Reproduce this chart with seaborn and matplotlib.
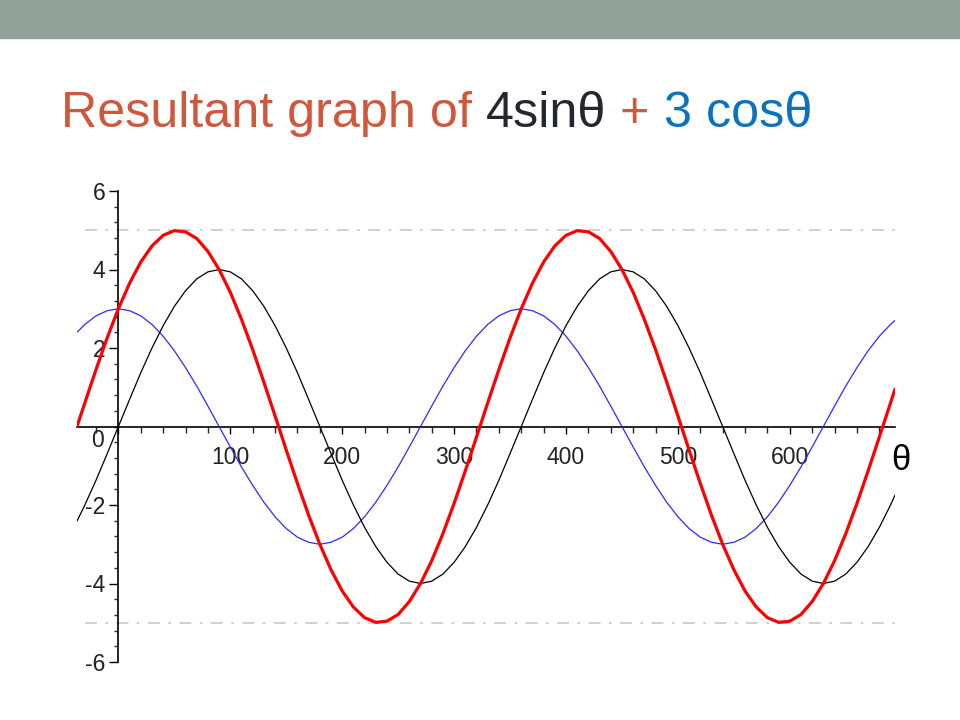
import matplotlib
matplotlib.use("Agg")
import matplotlib.pyplot as plt
from matplotlib.ticker import MultipleLocator, FixedLocator
from matplotlib.patches import Rectangle
import pandas as pd
import seaborn as sns

# angles in degrees (plot runs from about -37 to 694)
theta = [-37] + list(range(-30, 700, 10)) + [694]

# 4 sin(theta)  -- black
sin4 = [-2.41, -2.0, -1.37, -0.69,
        0, 0.69, 1.37, 2.0, 2.57, 3.06, 3.46, 3.76, 3.94, 4.0, 3.94, 3.76, 3.46, 3.06, 2.57, 2.0, 1.37, 0.69,
        0, -0.69, -1.37, -2.0, -2.57, -3.06, -3.46, -3.76, -3.94, -4.0, -3.94, -3.76, -3.46, -3.06, -2.57, -2.0, -1.37, -0.69,
        0, 0.69, 1.37, 2.0, 2.57, 3.06, 3.46, 3.76, 3.94, 4.0, 3.94, 3.76, 3.46, 3.06, 2.57, 2.0, 1.37, 0.69,
        0, -0.69, -1.37, -2.0, -2.57, -3.06, -3.46, -3.76, -3.94, -4.0, -3.94, -3.76, -3.46, -3.06, -2.57, -2.0,
        -1.75]

# 3 cos(theta)  -- blue
cos3 = [2.40, 2.6, 2.82, 2.95,
        3.0, 2.95, 2.82, 2.6, 2.3, 1.93, 1.5, 1.03, 0.52, 0, -0.52, -1.03, -1.5, -1.93, -2.3, -2.6, -2.82, -2.95,
        -3.0, -2.95, -2.82, -2.6, -2.3, -1.93, -1.5, -1.03, -0.52, 0, 0.52, 1.03, 1.5, 1.93, 2.3, 2.6, 2.82, 2.95,
        3.0, 2.95, 2.82, 2.6, 2.3, 1.93, 1.5, 1.03, 0.52, 0, -0.52, -1.03, -1.5, -1.93, -2.3, -2.6, -2.82, -2.95,
        -3.0, -2.95, -2.82, -2.6, -2.3, -1.93, -1.5, -1.03, -0.52, 0, 0.52, 1.03, 1.5, 1.93, 2.3, 2.6,
        2.70]

# resultant  -- red
resultant = [0.0, 0.6, 1.45, 2.26,
             3.0, 3.65, 4.19, 4.6, 4.87, 4.99, 4.96, 4.79, 4.46, 4.0, 3.42, 2.73, 1.96, 1.13, 0.27, -0.6, -1.45, -2.26,
             -3.0, -3.65, -4.19, -4.6, -4.87, -4.99, -4.96, -4.79, -4.46, -4.0, -3.42, -2.73, -1.96, -1.13, -0.27, 0.6, 1.45, 2.26,
             3.0, 3.65, 4.19, 4.6, 4.87, 4.99, 4.96, 4.79, 4.46, 4.0, 3.42, 2.73, 1.96, 1.13, 0.27, -0.6, -1.45, -2.26,
             -3.0, -3.65, -4.19, -4.6, -4.87, -4.99, -4.96, -4.79, -4.46, -4.0, -3.42, -2.73, -1.96, -1.13, -0.27, 0.6,
             0.95]

bounds = [5, -5]
x_ticks = [0, 100, 200, 300, 400, 500, 600]
x_labels = ["", "100", "200", "300", "400", "500", "600"]
y_ticks = [-6, -4, -2, 2, 4, 6]
title_parts = ["Resultant graph of ", "4sin\u03b8", " + ", "3 cos\u03b8"]
title_colors = ["#d0573c", "#262630", "#d0573c", "#0a72c0"]

df = pd.DataFrame({"theta": theta, "sin4": sin4, "cos3": cos3, "res": resultant})

sns.set_style("white")
plt.rcParams["font.family"] = ["Liberation Sans", "DejaVu Sans"]
plt.rcParams["axes.unicode_minus"] = False

fig = plt.figure(figsize=(9.6, 7.2), dpi=100)
fig.patches.append(Rectangle((0, 1 - 38 / 720), 1, 38 / 720, transform=fig.transFigure,
                             color="#93a299", zorder=0))

ax = fig.add_axes([77 / 960, 58 / 720, 818 / 960, 471 / 720])
ax.set_facecolor("none")

for b in bounds:
    ax.axhline(b, xmin=0.01, color="#c4c4c4", lw=1.1, linestyle=(0, (7.8, 5.5, 1.8, 5.5)), zorder=1)

sns.lineplot(data=df, x="theta", y="cos3", color="#2b2bff", lw=0.9, sort=False, estimator=None, ax=ax, zorder=3)
sns.lineplot(data=df, x="theta", y="sin4", color="black", lw=0.9, sort=False, estimator=None, ax=ax, zorder=3)
sns.lineplot(data=df, x="theta", y="res", color="#ff0000", lw=2.3, sort=False, estimator=None, ax=ax, zorder=4)

ax.set_xlim(min(theta), max(theta))
ax.set_ylim(-6, 6)
ax.set_xlabel("")
ax.set_ylabel("")

# maple-style axes through the origin
for s in ["top", "right"]:
    ax.spines[s].set_visible(False)
ax.spines["left"].set_position(("data", 0))
ax.spines["bottom"].set_position(("data", 0))
for s in ["left", "bottom"]:
    ax.spines[s].set_color("black")
    ax.spines[s].set_linewidth(1.2)
    ax.spines[s].set_zorder(2)

ax.xaxis.set_major_locator(FixedLocator(x_ticks))
ax.set_xticklabels(x_labels)
ax.xaxis.set_minor_locator(MultipleLocator(20))
ax.yaxis.set_major_locator(FixedLocator(y_ticks))
ax.yaxis.set_minor_locator(MultipleLocator(0.4))
ax.tick_params(axis="x", which="major", direction="out", length=5, width=1, pad=9,
               labelsize=16.5, colors="black", bottom=True)
ax.tick_params(axis="x", which="minor", direction="out", length=4, width=1, bottom=True)
ax.tick_params(axis="y", which="major", direction="out", length=6.5, width=1, pad=3,
               labelsize=16.5, colors="black", left=True)
ax.tick_params(axis="y", which="minor", direction="out", length=3.2, width=1, left=True)
for lbl in ax.get_xticklabels() + ax.get_yticklabels():
    lbl.set_color("#222222")

ax.text(-19, -0.36, "0", ha="center", va="center", fontsize=16.5, color="#222222")
fig.text(901 / 960, 1 - 461 / 720, "\u03b8", ha="center", va="center", fontsize=25, color="black")

# multi-coloured title, pieces placed one after another
renderer = fig.canvas.get_renderer()
x = 61 / 960
for part, col in zip(title_parts, title_colors):
    t = fig.text(x, 1 - 127 / 720, part, color=col, fontsize=36.2, ha="left", va="baseline")
    bb = t.get_window_extent(renderer=renderer)
    x += bb.width / fig.bbox.width

fig.savefig("out.png", dpi=100)
